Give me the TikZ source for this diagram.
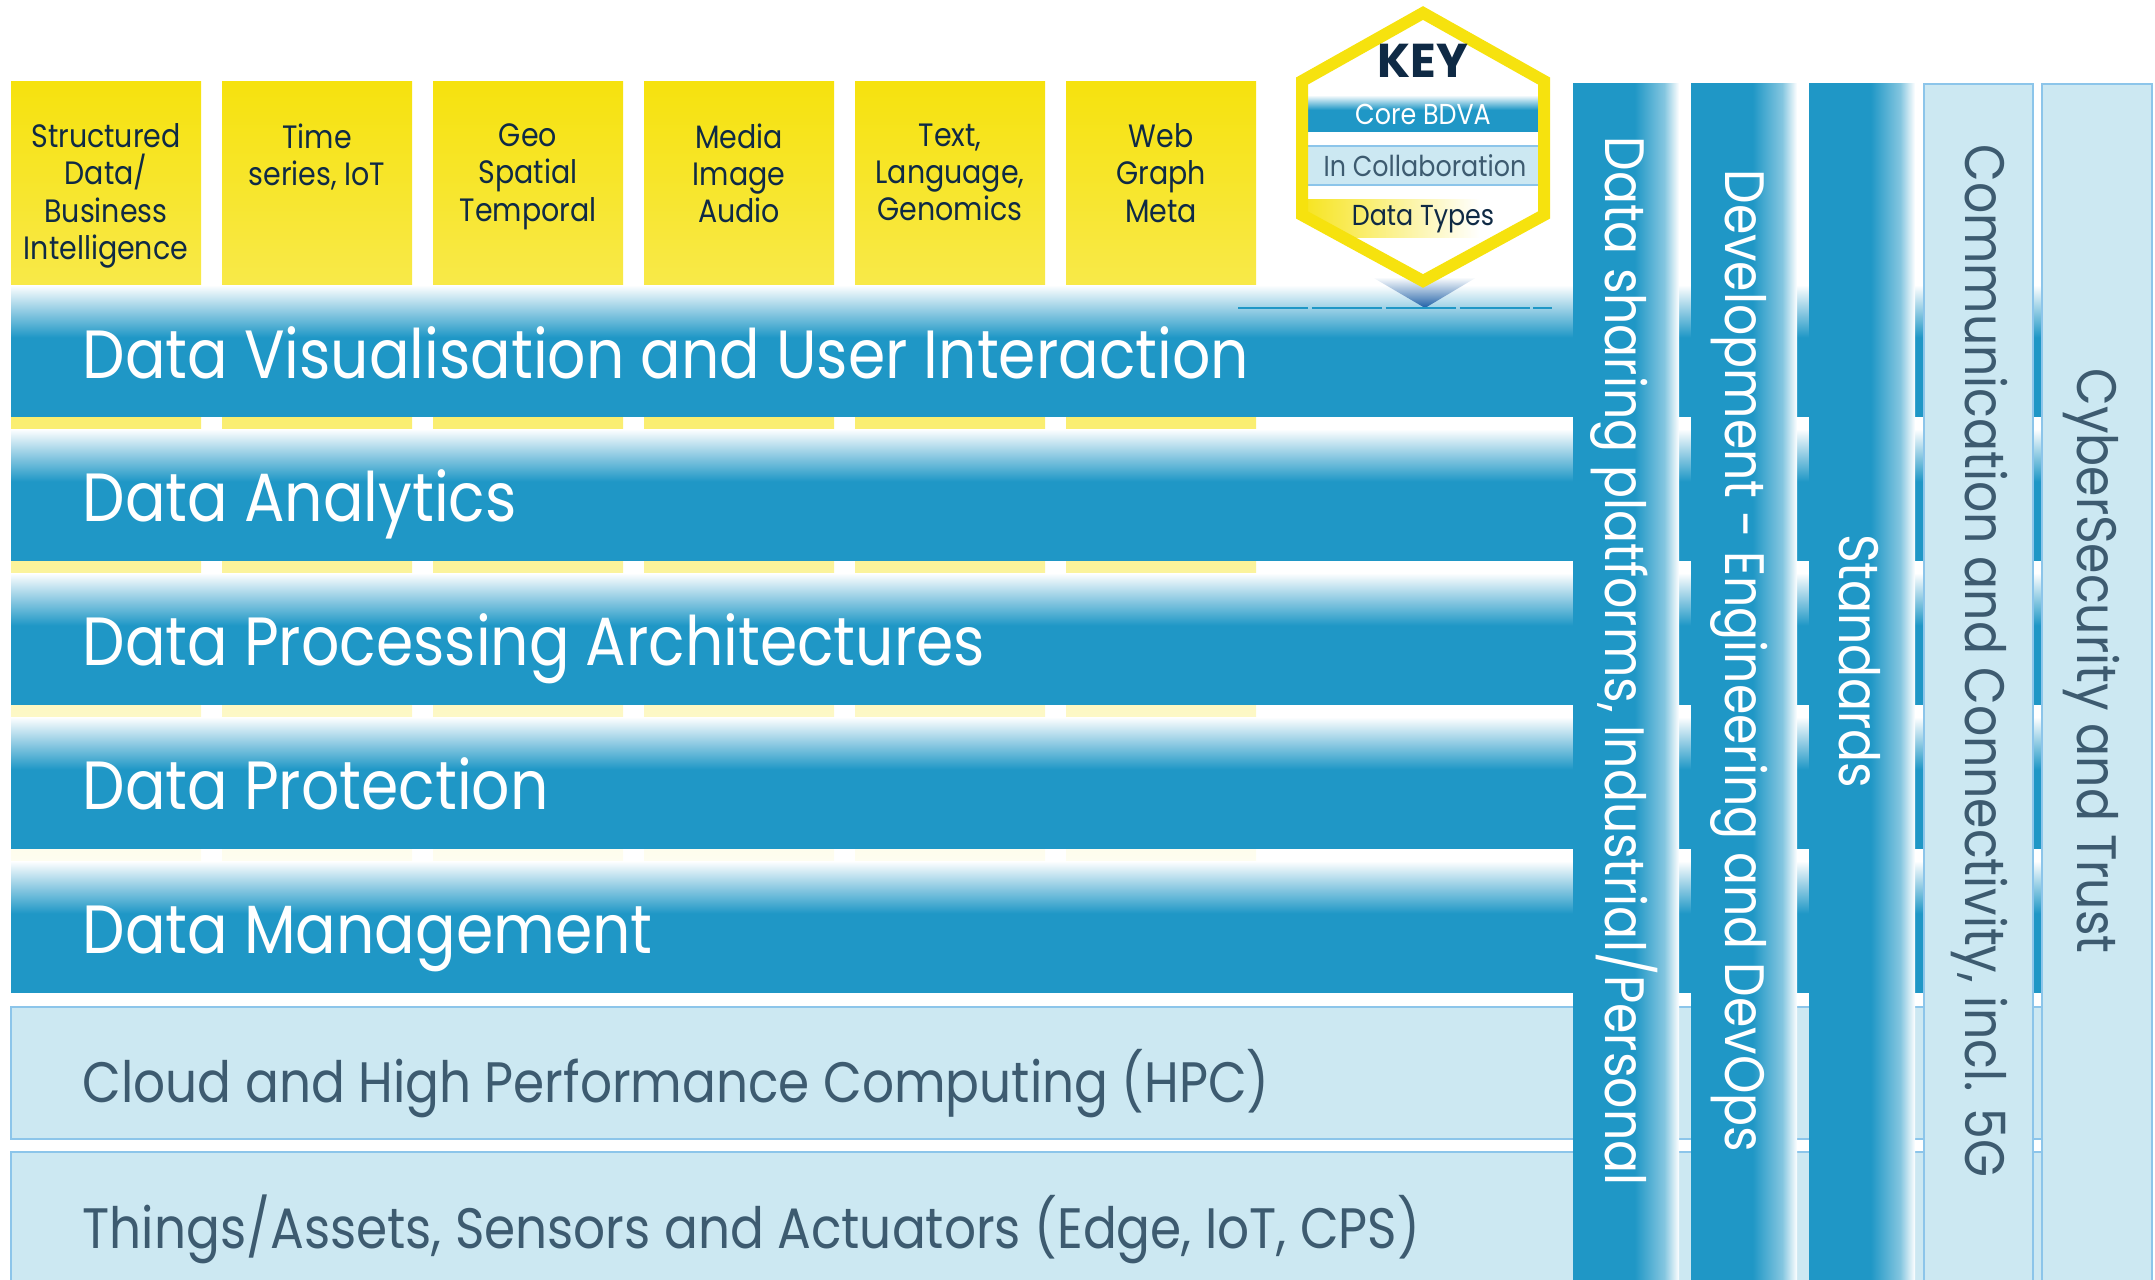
\documentclass[tikz,border=0pt]{standalone}
\usepackage{fontspec}
\setmainfont[FakeStretch=0.88]{Poppins}
\newfontfamily\keyfont{Poppins}
\usepackage{tikz}
\usetikzlibrary{positioning}
\definecolor{bdva}{HTML}{1F97C6}
\definecolor{collab}{HTML}{CCE8F2}
\definecolor{collabline}{HTML}{8CC5EA}
\definecolor{slate}{HTML}{3D5B70}
\definecolor{dtyellow}{HTML}{F6E20E}
\definecolor{navy}{HTML}{0F2A45}
\definecolor{keyblue}{HTML}{1D5FA6}
\pgfdeclareverticalshading{corefade}{100bp}{color(0bp)=(bdva); color(55bp)=(bdva); color(75bp)=(white); color(100bp)=(white)}
\pgfdeclarehorizontalshading{colfade}{100bp}{color(0bp)=(bdva); color(54bp)=(bdva); color(68bp)=(bdva!55!white); color(75bp)=(white); color(100bp)=(white)}
\tikzstyle{coretext} = [anchor=base west, inner sep=0pt, text=white, font=\fontsize{19.4}{22}\selectfont]
\tikzstyle{collabtext} = [anchor=base west, inner sep=0pt, text=slate, font=\fontsize{16.2}{20}\selectfont]
\tikzstyle{coltext} = [rotate=-90, inner sep=0pt, font=\fontsize{15.8}{20}\selectfont]
\tikzstyle{dtext} = [anchor=north, align=center, inner sep=0pt, text=navy, font=\fontsize{9.2}{10.6}\selectfont]
\tikzstyle{keytext} = [inner sep=0pt, font=\fontsize{8.2}{9}\selectfont]
\tikzstyle{collabbar} = [fill=collab, draw=collabline, line width=0.6pt]

\begin{document}
\begin{tikzpicture}[x=0.01cm, y=-0.01cm]
\useasboundingbox (0,0) rectangle (2155,1279);

\foreach \i in {0,...,5}
  \shade[top color=dtyellow, bottom color=dtyellow!6!white] (11+211*\i,82) rectangle ++(190,780);

\node (dt1) [dtext] at (106,123) {Structured\\Data/\\Business\\Intelligence};
\node (dt2) [dtext] at (317,123) {Time\\series, IoT};
\node (dt3) [dtext] at (528,123) {Geo\\Spatial\\Temporal};
\node (dt4) [dtext] at (739,123) {Media\\Image\\Audio};
\node (dt5) [dtext] at (950,123) {Text,\\Language,\\Genomics};
\node (dt6) [dtext] at (1161,123) {Web\\Graph\\Meta};

\foreach \y in {285,429,573,717,861}
  \shade[shading=corefade] (11,\y) rectangle ++(2141,131);

\node (vis) [coretext] at (82,378) {Data Visualisation and User Interaction};
\node (ana) [coretext] at (82,521) {Data Analytics};
\node (proc) [coretext] at (82,665) {Data Processing Architectures};
\node (prot) [coretext] at (82,809) {Data Protection};
\node (mgmt) [coretext] at (82,953) {Data Management};

\filldraw[collabbar] (11,1007) rectangle (2152,1139);
\filldraw[collabbar] (11,1152) rectangle (2152,1290);
\node (hpc) [collabtext] at (82,1102) {Cloud and High Performance Computing (HPC)};
\node (iot) [collabtext] at (82,1248) {Things/Assets, Sensors and Actuators (Edge, IoT, CPS)};

\foreach \x in {1573,1691,1809}
  \shade[shading=colfade] (\x,84) rectangle ++(106,1210);
\filldraw[collabbar] (1924,84) rectangle (2033,1290);
\filldraw[collabbar] (2042,84) rectangle (2152,1290);

\node (share) [coltext, text=white] at (1624,661) {Data sharing platforms, Industrial/Personal};
\node (devops) [coltext, text=white] at (1739,661) {Development - Engineering and DevOps};
\node (std) [coltext, text=white] at (1860,661) {Standards};
\node (comm) [coltext, text=slate] at (1979,661) {Communication and Connectivity, incl. 5G};
\node (cyber) [coltext, text=slate] at (2091,661) {CyberSecurity and Trust};

\shade[top color=white, bottom color=keyblue] (1372,277) -- (1477,277) -- (1425,308) -- cycle;
\draw[bdva, line width=0.4pt, dash pattern=on 20pt off 1pt] (1238,308) -- (1552,308);

\fill[white] (1423,13) -- (1544,81) -- (1544,215) -- (1423,281) -- (1302,215) -- (1302,81) -- cycle;
\begin{scope}
  \clip (1423,13) -- (1544,81) -- (1544,215) -- (1423,281) -- (1302,215) -- (1302,81) -- cycle;
  \shade[shading=corefade] (1290,95) rectangle (1560,132);
  \filldraw[collabbar] (1290,146) rectangle (1560,185);
  \shade[left color=dtyellow, right color=white] (1290,200) rectangle (1480,237);
\end{scope}
\draw[dtyellow, line width=0.12cm, line join=miter] (1423,13) -- (1544,81) -- (1544,215) -- (1423,281) -- (1302,215) -- (1302,81) -- cycle;

\node (key) [text=navy, inner sep=0pt, font=\keyfont\fontsize{13.5}{15}\bfseries] at (1423,61) {KEY};
\node (core) [keytext, text=white] at (1423,114) {Core BDVA};
\node (incollab) [keytext, text=slate] at (1425,166) {In Collaboration};
\node (dtypes) [keytext, text=navy] at (1423,219) {Data Types};

\end{tikzpicture}
\end{document}
